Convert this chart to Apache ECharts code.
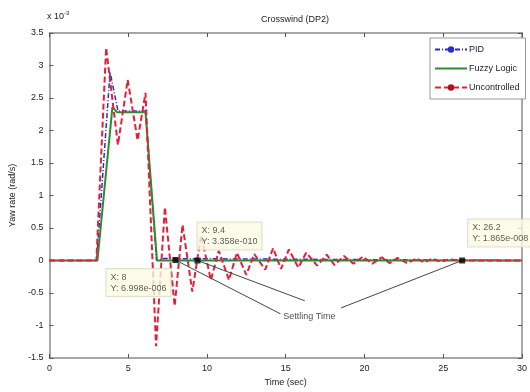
<!DOCTYPE html>
<html>
<head>
<meta charset="utf-8">
<script src="https://cdn.jsdelivr.net/npm/echarts@6/dist/echarts.min.js"></script>
<style>
  html, body { margin: 0; padding: 0; background: #ffffff; }
  #chart { width: 530px; height: 392px; }
</style>
</head>
<body>
<div id="chart"></div>
<script>
// Yaw rate response to a crosswind gust (values in units of 1e-3 rad/s)
const uncontrolledTime = [0, 2.98, 3.6, 4.35, 4.97, 5.6, 6.1, 6.77, 7.33, 7.95, 8.45, 9.07, 9.63,
  10.25, 10.75, 11.4, 11.9, 12.5, 13.0, 13.7, 14.2, 14.7, 15.2, 15.8, 16.3, 17.0, 17.6, 18.1,
  18.7, 19.3, 19.9, 20.5, 21.1, 21.6, 22.1, 22.7, 23.3, 23.8, 24.3, 24.85, 25.4, 26.0, 30];
const uncontrolledRate = [0, 0, 3.27, 1.78, 2.78, 1.85, 2.58, -1.32, 0.82, -0.70, 0.55, -0.48, 0.39,
  -0.30, 0.15, -0.30, 0.12, -0.22, 0.10, -0.14, 0.19, -0.13, 0.17, -0.11, 0.12, -0.08, 0.09, -0.07,
  0.07, -0.05, 0.06, -0.05, 0.05, -0.04, 0.04, -0.04, 0.03, -0.03, 0.03, -0.02, 0.02, 0, 0];

const fuzzyTime = [0, 3.05, 4.0, 4.3, 6.1, 6.83, 30];
const fuzzyRate = [0, 0, 2.36, 2.28, 2.28, 0, 0];

const pidTime = [0, 3.0, 3.85, 4.35, 6.1, 6.8, 7.3, 30];
const pidRate = [0, 0, 2.9, 2.3, 2.3, 0, 0.03, 0];

// Data tips marking the settling instants
const tipTime = [8, 9.4, 26.2];
const tipValueText = ['6.998e-006', '3.358e-010', '1.865e-008'];
// Arrow tails, near the "Settling Time" note
const arrowTailTime = [14.66, 16.21, 18.51];
const arrowTailRate = [-0.82, -0.62, -0.73];
const noteTime = 16.5;
const noteRate = -0.86;

const xTicks = { min: 0, max: 30, interval: 5 };
const yTicks = { min: -1.5, max: 3.5, interval: 0.5 };

const zip = (a, b) => a.map((v, i) => [v, b[i]]);
const SCALE = 1e-3;
const tipValues = tipValueText.map(s => parseFloat(s) / SCALE);

const axisGrey = '#8a8a8a';
const textCol = '#222222';
const font = 'Liberation Sans, Arial, sans-serif';

const tipLabelPos = [[-66, 12], [3, -35], [9, -38]];

const chart = echarts.init(document.getElementById('chart'), null, { renderer: 'canvas' });

const baseX = {
  type: 'value', min: xTicks.min, max: xTicks.max, interval: xTicks.interval,
  splitLine: { show: false },
  axisLine: { onZero: false, lineStyle: { color: axisGrey, width: 1.5 } },
  axisTick: { inside: true, length: 4, lineStyle: { color: '#555' } }
};
const baseY = {
  type: 'value', min: yTicks.min, max: yTicks.max, interval: yTicks.interval,
  splitLine: { show: false },
  axisLine: { onZero: false, lineStyle: { color: axisGrey, width: 1.5 } },
  axisTick: { inside: true, length: 4, lineStyle: { color: '#555' } }
};

chart.setOption({
  animation: false,
  backgroundColor: '#ffffff',
  textStyle: { fontFamily: font },
  title: {
    text: 'Crosswind (DP2)',
    left: 290, top: 10, textAlign: 'center',
    textStyle: { fontSize: 9, fontWeight: 'normal', color: textCol, fontFamily: font }
  },
  graphic: [{
    type: 'text', left: 47, top: 10,
    style: {
      text: 'x 10{sup|-3}', fill: textCol, font: '9px ' + font,
      rich: { sup: { fontSize: 6, verticalAlign: 'top', padding: [0, 0, 8, 0], fill: textCol } }
    }
  }],
  grid: { left: 47, right: 0, top: 33, bottom: 34, containLabel: false },
  legend: {
    data: [
      { name: 'PID' },
      { name: 'Fuzzy Logic', itemStyle: { opacity: 0 } },
      { name: 'Uncontrolled' }
    ],
    orient: 'vertical', left: 430, top: 38, width: 97,
    itemWidth: 32, itemHeight: 8, itemGap: 10,
    padding: [7, 6, 7, 4],
    backgroundColor: '#ffffff', borderColor: '#999', borderWidth: 1, borderRadius: 0,
    textStyle: { fontSize: 9, color: textCol, fontFamily: font, padding: [0, 0, 0, -3] }
  },
  xAxis: [
    Object.assign({}, baseX, {
      position: 'bottom', name: 'Time (sec)', nameLocation: 'middle', nameGap: 17,
      nameTextStyle: { fontSize: 9, color: textCol },
      axisLabel: { fontSize: 9, color: textCol, margin: 6 }
    }),
    Object.assign({}, baseX, { position: 'top', axisLabel: { show: false } })
  ],
  yAxis: [
    Object.assign({}, baseY, {
      position: 'left', name: 'Yaw rate (rad/s)', nameLocation: 'middle', nameGap: 25,
      nameTextStyle: { fontSize: 9, color: textCol },
      axisLabel: { fontSize: 9, color: textCol, margin: 6 }
    }),
    Object.assign({}, baseY, { position: 'right', axisLabel: { show: false } })
  ],
  series: [
    {
      name: 'PID', type: 'line', data: zip(pidTime, pidRate),
      showSymbol: false, symbol: 'circle', symbolSize: 4,
      itemStyle: { color: '#2b2bd0' },
      lineStyle: { color: '#2b2bd0', width: 1.5, type: [5, 2, 1, 2] }
    },
    {
      name: 'Fuzzy Logic', type: 'line', data: zip(fuzzyTime, fuzzyRate),
      showSymbol: false, symbol: 'none',
      itemStyle: { color: '#2e8b2e' },
      lineStyle: { color: '#2e8b2e', width: 2 }
    },
    {
      name: 'Uncontrolled', type: 'line', data: zip(uncontrolledTime, uncontrolledRate),
      showSymbol: false, symbol: 'circle', symbolSize: 4,
      itemStyle: { color: '#b0101c' },
      lineStyle: { color: '#e3203a', width: 2, type: [6, 3] }
    },
    {
      name: 'tips', type: 'scatter', z: 5,
      data: tipTime.map((t, i) => ({
        value: [t, tipValues[i]],
        label: {
          show: true, position: tipLabelPos[i],
          formatter: 'X: ' + t + '\nY: ' + tipValueText[i],
          fontSize: 9, lineHeight: 11, color: '#333', fontFamily: font,
          backgroundColor: '#fbfbe4', borderColor: '#d8d8c0', borderWidth: 1,
          padding: [3, 4, 2, 4], align: 'left', verticalAlign: 'top'
        }
      })),
      symbol: 'rect', symbolSize: 6,
      itemStyle: { color: '#000' },
      markLine: {
        silent: true,
        symbol: ['none', 'arrow'], symbolSize: [0, 8],
        label: { show: false },
        lineStyle: { color: '#444', width: 1, type: 'solid' },
        data: tipTime.map((t, i) => [
          { coord: [arrowTailTime[i], arrowTailRate[i]] },
          { coord: [t, tipValues[i]] }
        ])
      }
    },
    {
      name: 'note', type: 'scatter', z: 5,
      data: [[noteTime, noteRate]],
      symbolSize: 0,
      label: {
        show: true, position: 'inside', formatter: 'Settling Time',
        fontSize: 9, color: textCol, fontFamily: font
      }
    }
  ]
});
</script>
</body>
</html>
